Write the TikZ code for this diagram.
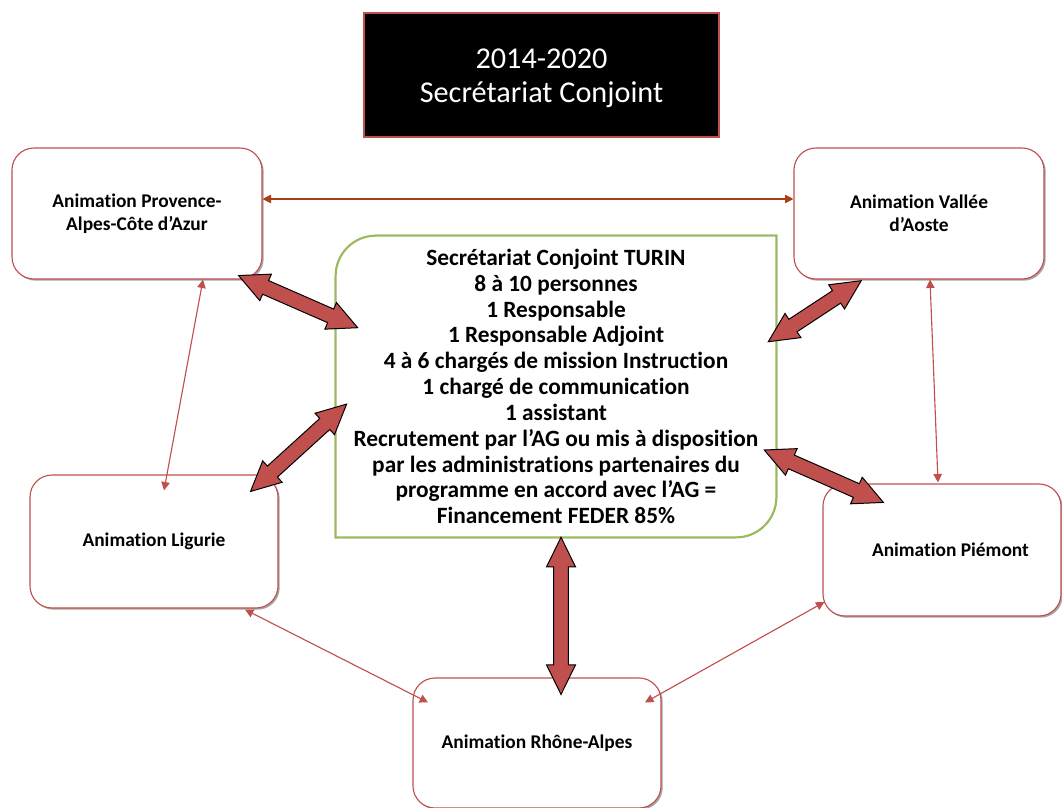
\documentclass[tikz,border=0pt]{standalone}
\usepackage{fontspec}
\setmainfont{Carlito}[Ligatures=NoCommon]
\usetikzlibrary{calc,shadows,arrows.meta}
\definecolor{accred}{RGB}{192,80,77}
\definecolor{accgreen}{RGB}{155,187,89}
\definecolor{arrbrown}{RGB}{170,62,22}
\def\pxu{0.025cm}
\newcommand\blockarrow[2]{%
  \path let \p1=($(#2)-(#1)$) in \pgfextra{%
    \pgfmathsetmacro\baang{atan2(\y1,\x1)}%
    \pgfmathsetmacro\balen{veclen(\x1,\y1)}%
    \xdef\baang{\baang}\xdef\balen{\balen}};
  \draw[bigarrow, shift={(#1)}, rotate=\baang]
    (0pt,0pt) -- (21pt,10.3pt) -- (21pt,5.3pt) -- ({\balen pt-21pt},5.3pt)
    -- ({\balen pt-21pt},10.3pt) -- (\balen pt,0pt) -- ({\balen pt-21pt},-10.3pt)
    -- ({\balen pt-21pt},-5.3pt) -- (21pt,-5.3pt) -- (21pt,-10.3pt) -- cycle;
}
\tikzset{
  region/.style={draw=accred, line width=0.8pt, fill=white, rounded corners=0.55cm,
    drop shadow={shadow xshift=1.2pt, shadow yshift=-1.2pt, fill=black!35, opacity=1},
    align=center, font=\fontsize{13.8}{16.4}\selectfont\bfseries, inner sep=0pt},
  bigarrow/.style={fill=accred, draw=black, line width=0.7pt, line join=miter},
  thinarrow/.style={draw=accred, line width=0.8pt, {Triangle[length=6pt,width=6pt]}-{Triangle[length=6pt,width=6pt]}},
  brownarrow/.style={draw=arrbrown, line width=0.8pt, {Triangle[length=6pt,width=6pt]}-{Triangle[length=6pt,width=6pt]}},
}
\begin{document}
\begin{tikzpicture}[x=0.025cm, y=-0.025cm]
\useasboundingbox (0,0) rectangle (1062,807);
\fill[white] (0,0) rectangle (1062,807);

% top title box
\node[draw=accred, line width=2pt, fill=black, minimum width={355*\pxu}, minimum height={124*\pxu}] (title) at (541.5,75) {};
\node[text=white, align=center, font=\fontsize{21.5}{24.4}\selectfont, inner sep=0pt] (titletext) at ($(title.center)+(0,3)$) {2014-2020\\Secrétariat Conjoint};

% regional boxes
\node[region, minimum width={250*\pxu}, minimum height={131*\pxu}] (prov) at (137,213.5) {Animation Provence-\\Alpes-Côte d’Azur};
\node[region, minimum width={250*\pxu}, minimum height={131*\pxu}] (aoste) at (919,213.5) {Animation Vallée\\d’Aoste};
\node[region, minimum width={248*\pxu}, minimum height={133*\pxu}] (lig) at (154,541.5) {Animation Ligurie};
\node[region, minimum width={238*\pxu}, minimum height={132*\pxu}] (piem) at (942,550) {\hspace*{12pt}Animation Piémont};
\node[region, minimum width={248*\pxu}, minimum height={130*\pxu}] (rhone) at (537,743) {Animation Rhône-Alpes};

% central box
\node[minimum width={440*\pxu}, minimum height={301*\pxu}, inner sep=0pt] (sc) at (556,386.5) {};
\draw[black!40, line width=1.4pt, shift={(2.5,2.5)}]
  (sc.south west) -- ($(sc.north west)+(0,40)$)
  .. controls ($(sc.north west)+(0,18)$) and ($(sc.north west)+(18,0)$) .. ($(sc.north west)+(40,0)$)
  -- (sc.north east) -- ($(sc.south east)+(0,-40)$)
  .. controls ($(sc.south east)+(0,-18)$) and ($(sc.south east)+(-18,0)$) .. ($(sc.south east)+(-40,0)$)
  -- cycle;
\draw[accgreen, line width=1.4pt, fill=white]
  (sc.south west) -- ($(sc.north west)+(0,40)$)
  .. controls ($(sc.north west)+(0,18)$) and ($(sc.north west)+(18,0)$) .. ($(sc.north west)+(40,0)$)
  -- (sc.north east) -- ($(sc.south east)+(0,-40)$)
  .. controls ($(sc.south east)+(0,-18)$) and ($(sc.south east)+(-18,0)$) .. ($(sc.south east)+(-40,0)$)
  -- cycle;
\node[align=center, font=\fontsize{16.6}{18.35}\selectfont\bfseries, inner sep=0pt] (sctext) at (sc.center)
  {Secrétariat Conjoint TURIN\\8 à 10 personnes\\1 Responsable\\1 Responsable Adjoint\\4 à 6 chargés de mission Instruction\\1 chargé de communication\\1 assistant\\Recrutement par l’AG ou mis à disposition\\par les administrations partenaires du\\programme en accord avec l’AG =\\Financement FEDER 85\%};

% thin connectors
\coordinate (b1) at ($(prov.east)+(0,-14.5)$);
\coordinate (b2) at ($(aoste.west)+(0,-14.5)$);
\draw[brownarrow] (b1) -- (b2);
\coordinate (t1a) at ($(prov.south)+(66,0)$);
\coordinate (t1b) at ($(lig.north)+(10,16)$);
\draw[thinarrow] (t1a) -- (t1b);
\coordinate (t2a) at ($(aoste.south)+(11,0)$);
\coordinate (t2b) at ($(piem.north)+(-4,-1)$);
\draw[thinarrow] (t2a) -- (t2b);
\coordinate (t3a) at ($(lig.south)+(91,1)$);
\coordinate (t3b) at ($(rhone.north)+(-109,25)$);
\draw[thinarrow] (t3a) -- (t3b);
\coordinate (t4a) at ($(piem.west)+(2,52)$);
\coordinate (t4b) at ($(rhone.north)+(108,25)$);
\draw[thinarrow] (t4a) -- (t4b);

% thick block arrows
\coordinate (a1a) at ($(prov.south east)+(-24,-4)$);
\coordinate (a1b) at ($(sc.north west)+(22,92)$);
\blockarrow{a1a}{a1b}
\coordinate (a2a) at ($(sc.north east)+(-8,106)$);
\coordinate (a2b) at ($(aoste.south west)+(68,1)$);
\blockarrow{a2a}{a2b}
\coordinate (a3a) at ($(lig.north east)+(-28,17)$);
\coordinate (a3b) at ($(sc.west)+(11,17.5)$);
\blockarrow{a3a}{a3b}
\coordinate (a4a) at ($(sc.east)+(-12,63.5)$);
\coordinate (a4b) at ($(piem.north west)+(61,19)$);
\blockarrow{a4a}{a4b}
\coordinate (a5a) at ($(sc.south)+(5,0)$);
\coordinate (a5b) at ($(rhone.north)+(24,17)$);
\blockarrow{a5a}{a5b}
\end{tikzpicture}
\end{document}
